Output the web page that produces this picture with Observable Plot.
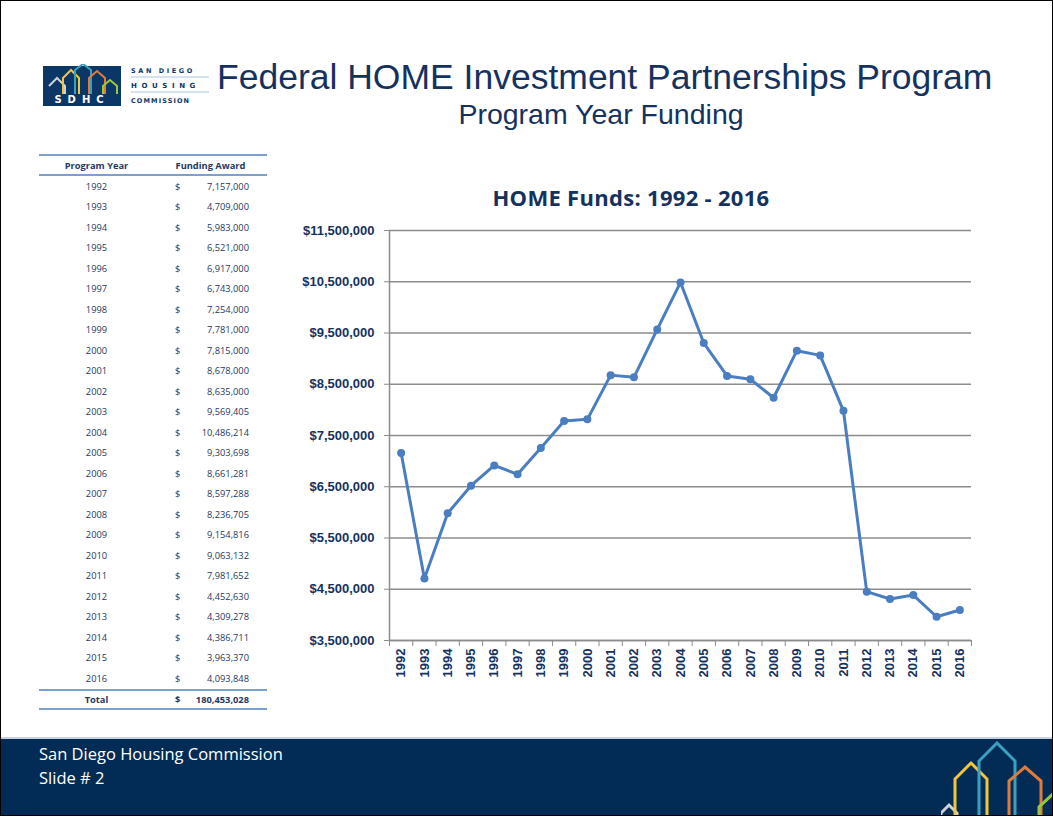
<!DOCTYPE html>
<html>
<head>
<meta charset="utf-8">
<script src="https://cdn.jsdelivr.net/npm/d3@7"></script>
<script src="https://cdn.jsdelivr.net/npm/@observablehq/plot@0.6"></script>
<style>
  html, body { margin: 0; padding: 0; background: #fff; }
  #slide { position: relative; width: 1051px; height: 814px; border: 1px solid #000; overflow: hidden; background: #fff; font-family: "Liberation Sans", Arial, sans-serif; }
  #title { position: absolute; left: 216px; top: 56px; font-size: 35.5px; color: #15325F; white-space: nowrap; }
  #subtitle { position: absolute; left: 400px; top: 97px; width: 400px; text-align: center; font-size: 28.5px; color: #15325F; white-space: nowrap; }
  #logo { position: absolute; left: 42px; top: 63px; }
  #tbl { position: absolute; left: 38px; top: 153px; width: 228px; border-collapse: collapse; font-family: "Open Sans", sans-serif; font-size: 9.3px; color: #1F3864; }
  #tbl th { font-weight: bold; height: 18px; border-top: 2px solid #7BA0CD; border-bottom: 2px solid #7BA0CD; padding: 0; }
  #tbl td { height: 20.5px; padding: 0; }
  #tbl tr.total td { font-weight: bold; border-top: 2px solid #7BA0CD; border-bottom: 2px solid #7BA0CD; height: 17px; }
  #chartTitle { position: absolute; left: 380px; top: 181px; width: 500px; text-align: center; font-family: "Open Sans", sans-serif; font-weight: bold; font-size: 22px; color: #15325F; letter-spacing: 0.3px; }
  #chart { position: absolute; left: 280px; top: 215px; }
  #footer { position: absolute; left: 0; top: 736px; width: 1051px; height: 80px; background: #022C55; border-top: 2px solid #c9d3df; }
  #footer .t { position: absolute; left: 38px; color: #fff; font-family: "Open Sans", sans-serif; font-size: 16.5px; }
  #houses { position: absolute; left: 940px; top: 740px; }
</style>
</head>
<body>
<div id="slide">
  <svg id="logo" width="170" height="44" viewBox="0 0 170 44">
    <rect x="0" y="2" width="78" height="40" fill="#0B3766"/>
    <polyline points="6,22 14,14 22,22 22,30" fill="none" stroke="#cfd3d6" stroke-width="2"/>
    <polyline points="20,30 20,14 28,6 36,14 36,30" fill="none" stroke="#F2C53D" stroke-width="2"/>
    <polyline points="32,30 32,6 40,0 48,6 48,30" fill="none" stroke="#3AA0C0" stroke-width="2"/>
    <polyline points="46,30 46,14 54,7 62,14 62,30" fill="none" stroke="#E07B3C" stroke-width="2"/>
    <polyline points="60,30 60,22 67,16 74,22 74,30" fill="none" stroke="#9BC53D" stroke-width="2"/>
    <text x="39" y="39" fill="#fff" font-family="DejaVu Sans" font-weight="bold" font-size="10" text-anchor="middle" letter-spacing="6">SDHC</text>
    <text x="88" y="9" fill="#0B3766" font-family="DejaVu Sans" font-weight="bold" font-size="6.5" letter-spacing="2.6">SAN DIEGO</text>
    <line x1="88" y1="13" x2="166" y2="13" stroke="#a9c6e0" stroke-width="1"/>
    <text x="88" y="24" fill="#0B3766" font-family="DejaVu Sans" font-weight="bold" font-size="7" letter-spacing="4.6">HOUSING</text>
    <line x1="88" y1="28" x2="166" y2="28" stroke="#a9c6e0" stroke-width="1"/>
    <text x="88" y="39" fill="#0B3766" font-family="DejaVu Sans" font-weight="bold" font-size="6.5" letter-spacing="1.1">COMMISSION</text>
  </svg>
  <div id="title">Federal HOME Investment Partnerships Program</div>
  <div id="subtitle">Program Year Funding</div>
  <table id="tbl"></table>
  <div id="chartTitle">HOME Funds: 1992 - 2016</div>
  <div id="chart"></div>
  <div id="footer">
    <div class="t" style="top:3px">San Diego Housing Commission</div>
    <div class="t" style="top:27px">Slide # 2</div>
  </div>
  <svg id="houses" width="113" height="76" viewBox="0 0 113 76">
    <polyline points="0,76 0,72 8,64 16,72 16,76" fill="none" stroke="#cfd3d6" stroke-width="3"/>
    <polyline points="14,76 14,38 30,22 46,38 46,76" fill="none" stroke="#F2C53D" stroke-width="3"/>
    <polyline points="38,76 38,20 56,2 74,20 74,76" fill="none" stroke="#3AA0C0" stroke-width="3"/>
    <polyline points="68,76 68,40 84,26 100,40 100,76" fill="none" stroke="#E07B3C" stroke-width="3"/>
    <polyline points="98,76 98,66 113,52" fill="none" stroke="#9BC53D" stroke-width="3"/>
  </svg>
</div>
<script>
const years = [1992,1993,1994,1995,1996,1997,1998,1999,2000,2001,2002,2003,2004,2005,2006,2007,2008,2009,2010,2011,2012,2013,2014,2015,2016];
const amounts = [7157000,4709000,5983000,6521000,6917000,6743000,7254000,7781000,7815000,8678000,8635000,9569405,10486214,9303698,8661281,8597288,8236705,9154816,9063132,7981652,4452630,4309278,4386711,3963370,4093848];
const yTicks = [3500000,4500000,5500000,6500000,7500000,8500000,9500000,10500000,11500000];
const columnHeaders = ["Program Year", "Funding Award"];
const totalLabel = "Total";

const data = years.map((y, i) => ({year: y, amount: amounts[i]}));
const fmt = d3.format(",");

// Table
const tbl = document.getElementById("tbl");
let html = `<tr><th style="width:115px">${columnHeaders[0]}</th><th colspan="2">${columnHeaders[1]}</th></tr>`;
for (const d of data) {
  html += `<tr><td style="text-align:center">${d.year}</td><td style="text-align:left;padding-left:21px;width:20px">$</td><td style="text-align:right;padding-right:18px">${fmt(d.amount)}</td></tr>`;
}
html += `<tr class="total"><td style="text-align:center">${totalLabel}</td><td style="text-align:left;padding-left:21px">$</td><td style="text-align:right;padding-right:18px">${fmt(d3.sum(amounts))}</td></tr>`;
tbl.innerHTML = html;

// Chart
const x0 = d3.min(years) - 0.5, x1 = d3.max(years) + 0.5;
const boundaries = years.map(y => y - 0.5).concat([x1]);
const chart = Plot.plot({
  width: 700,
  height: 474,
  marginLeft: 108,
  marginRight: 10,
  marginTop: 14,
  marginBottom: 50,
  style: {fontFamily: "'Liberation Sans', Arial, sans-serif", fontSize: "13px", fontWeight: "bold", background: "transparent"},
  x: {domain: [x0, x1]},
  y: {domain: [d3.min(yTicks), d3.max(yTicks)]},
  marks: [
    Plot.gridY(yTicks, {stroke: "#8c8c8c", strokeOpacity: 1, strokeWidth: 1.5}),
    Plot.ruleX([x0], {stroke: "#8c8c8c", strokeWidth: 1.5}),
    Plot.ruleY([d3.min(yTicks)], {stroke: "#8c8c8c", strokeWidth: 1.5}),
    Plot.axisY({ticks: yTicks, tickFormat: d => "$" + fmt(d), tickSize: 5, tickPadding: 10, stroke: "#8c8c8c", fill: "#15325F", label: null}),
    Plot.axisX({ticks: boundaries, tickFormat: () => "", tickSize: 6, stroke: "#8c8c8c", label: null}),
    Plot.axisX({ticks: years, tickFormat: d => String(d), tickSize: 0, tickPadding: 8, tickRotate: -90, fill: "#15325F", label: null}),
    Plot.line(data, {x: "year", y: "amount", stroke: "#4A7EC0", strokeWidth: 3}),
    Plot.dot(data, {x: "year", y: "amount", r: 4, fill: "#4A7EC0", stroke: "none"})
  ]
});
document.getElementById("chart").appendChild(chart);
</script>
</body>
</html>
